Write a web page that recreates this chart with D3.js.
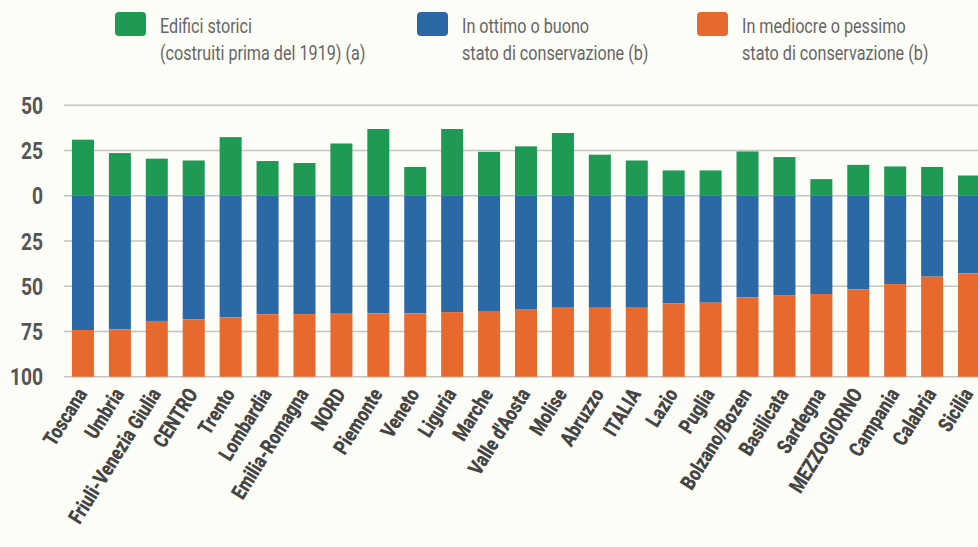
<!DOCTYPE html>
<html><head><meta charset="utf-8">
<script src="https://cdn.jsdelivr.net/npm/d3@7"></script>
<style>
html,body{margin:0;padding:0;background:#fdfdf8;}
svg{display:block;}
</style></head>
<body>
<svg id="c" width="978" height="547"></svg>
<script>
const categories = ["Toscana","Umbria","Friuli-Venezia Giulia","CENTRO","Trento","Lombardia","Emilia-Romagna","NORD","Piemonte","Veneto","Liguria","Marche","Valle d'Aosta","Molise","Abruzzo","ITALIA","Lazio","Puglia","Bolzano/Bozen","Basilicata","Sardegna","MEZZOGIORNO","Campania","Calabria","Sicilia"];
const storici = [31.0,23.6,20.5,19.5,32.4,19.2,18.1,28.9,36.9,15.9,36.9,24.3,27.3,34.7,22.7,19.5,14.0,14.0,24.5,21.4,9.2,17.1,16.2,15.9,11.2];
const buono = [74.2,73.8,69.2,68.3,67.2,65.5,65.4,65.2,65.0,65.0,64.3,64.1,62.6,61.9,61.9,61.9,59.5,59.1,56.1,54.9,54.3,51.7,48.8,44.7,42.9];
const mediocre = [25.8,26.2,30.8,31.7,32.8,34.5,34.6,34.8,35.0,35.0,35.7,35.9,37.4,38.1,38.1,38.1,40.5,40.9,43.9,45.1,45.7,48.3,51.2,55.3,57.1];
const tickValues = [50,25,0,-25,-50,-75,-100];
const tickLabels = ["50","25","0","25","50","75","100"];
const legendLabels = [["Edifici storici","(costruiti prima del 1919) (a)"],["In ottimo o buono","stato di conservazione (b)"],["In mediocre o pessimo","stato di conservazione (b)"]];
const colors = ["#1e9a55","#2b69a6","#e8692e"];

const svg = d3.select("#c");
const x = d3.scaleBand().domain(categories).range([64.5, 64.5 + 25*36.92]).paddingInner(0.404).paddingOuter(0.202);
const y = d3.scaleLinear().domain([-100, 50]).range([376.7, 105.3]);

// gridlines
svg.append("g").selectAll("line").data(tickValues).join("line")
  .attr("x1", 64).attr("x2", 978)
  .attr("y1", d => y(d)).attr("y2", d => y(d))
  .attr("stroke", "#c4c4c0").attr("stroke-width", 1.5);

// y axis labels (condensed)
svg.append("g").selectAll("text").data(tickValues).join("text")
  .attr("transform", d => `translate(43,${y(d)}) scale(0.8,1)`)
  .attr("dy", "0.36em").attr("text-anchor", "end")
  .attr("font-family", "Roboto").attr("font-weight", "bold").attr("font-size", 24)
  .attr("fill", "#555")
  .text((d,i) => tickLabels[i]);

const rows = categories.map((c,i) => ({c, s: storici[i], b: buono[i], m: mediocre[i]}));
const g = svg.append("g");
g.selectAll("rect.s").data(rows).join("rect").attr("class","s")
  .attr("x", d => x(d.c)).attr("width", x.bandwidth())
  .attr("y", d => y(d.s)).attr("height", d => y(0) - y(d.s)).attr("fill", colors[0]);
g.selectAll("rect.b").data(rows).join("rect").attr("class","b")
  .attr("x", d => x(d.c)).attr("width", x.bandwidth())
  .attr("y", y(0)).attr("height", d => y(-d.b) - y(0)).attr("fill", colors[1]);
g.selectAll("rect.m").data(rows).join("rect").attr("class","m")
  .attr("x", d => x(d.c)).attr("width", x.bandwidth())
  .attr("y", d => y(-d.b)).attr("height", d => y(-d.b - d.m) - y(-d.b)).attr("fill", colors[2]);

// x labels
svg.append("g").selectAll("text").data(categories).join("text")
  .attr("transform", d => `translate(${x(d) + x.bandwidth()/2 + 5},394) rotate(-58) scale(0.8,1)`)
  .attr("text-anchor", "end")
  .attr("font-family", "Roboto").attr("font-weight", 900)
  .attr("font-size", 21).attr("fill", "#454545")
  .text(d => d);

// legend
const lx = [115, 417, 697];
const leg = svg.append("g").selectAll("g").data(legendLabels).join("g")
  .attr("transform", (d,i) => `translate(${lx[i]},0)`);
leg.append("rect").attr("x", 0).attr("y", 12).attr("width", 31).attr("height", 24).attr("rx", 4).attr("fill", (d,i) => colors[i]);
leg.append("text").attr("transform", "translate(45,33) scale(0.77,1)").attr("font-family", "Roboto").attr("font-size", 21).attr("fill", "#666").text(d => d[0]);
leg.append("text").attr("transform", "translate(45,60) scale(0.77,1)").attr("font-family", "Roboto").attr("font-size", 21).attr("fill", "#666").text(d => d[1]);
</script>
</body></html>
